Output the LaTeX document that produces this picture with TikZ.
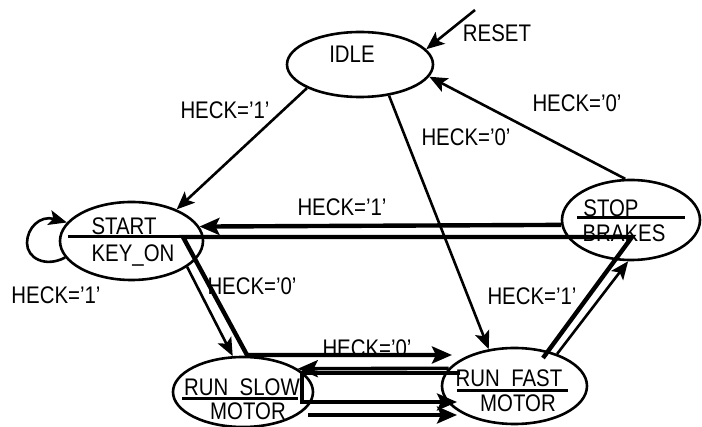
\documentclass[tikz,border=0pt]{standalone}
\usepackage{fontspec}
\setmainfont[FakeStretch=0.85,Ligatures=NoCommon]{Liberation Sans}
\usetikzlibrary{shapes.geometric,arrows.meta}
\newcommand\apo{\char39\relax}
\begin{document}
\begin{tikzpicture}[x=1pt,y=-1pt,
  st/.style={draw,ellipse,line width=2.6pt,inner sep=0pt},
  lbl/.style={font=\fontsize{24}{28}\selectfont,inner sep=0pt,anchor=base},
  fineline/.style={line width=2.6pt},
  midline/.style={line width=3.6pt},
  boldline/.style={line width=4.4pt},
  divline/.style={line width=3pt},
  tip/.style={-{Stealth[length=18pt,width=15pt,inset=4pt]}},
  bigtip/.style={-{Stealth[length=20pt,width=17pt,inset=4pt]}}
]
\useasboundingbox (0,0) rectangle (702,427);

% states
\node[st,minimum width=146pt,minimum height=65pt] (idle) at (360,64.5) {};
\node[st,minimum width=143pt,minimum height=78pt] (start) at (131.5,241) {};
\node[st,minimum width=138pt,minimum height=80pt] (stop) at (631,220) {};
\node[st,minimum width=140pt,minimum height=70pt] (slow) at (243,392) {};
\node[st,minimum width=145pt,minimum height=76pt] (fast) at (514.5,386) {};

% state texts
\node[lbl] (tidle) at (352,63) {IDLE};
\node[lbl] (tstart) at (124,235) {START};
\node[lbl] (tkey) at (133,262) {KEY\_ON};
\node[lbl] (tstop) at (611,217) {STOP};
\node[lbl] (tbrakes) at (624,242) {BRAKES};
\node[lbl] (tslow) at (242,396) {RUN\_SLOW};
\node[lbl] (tmotora) at (248,420) {MOTOR};
\node[lbl] (tfast) at (509,387) {RUN\_FAST};
\node[lbl] (tmotorb) at (518,412) {MOTOR};

% transition labels
\node[lbl] (lreset) at (497,42) {RESET};
\node[lbl] (la) at (225,119) {HECK=\apo1\apo};
\node[lbl] (lb) at (466,146) {HECK=\apo0\apo};
\node[lbl] (lc) at (577,112) {HECK=\apo0\apo};
\node[lbl] (ld) at (342,216) {HECK=\apo1\apo};
\node[lbl] (le) at (252,295) {HECK=\apo0\apo};
\node[lbl] (lf) at (56,304) {HECK=\apo1\apo};
\node[lbl] (lg) at (532,305) {HECK=\apo1\apo};
\node[lbl] (lh) at (367,357) {HECK=\apo0\apo};

% dividers
\draw[divline] (577,218) -- (685,218);
\draw[divline] (182,399) -- (298,399);
\draw[divline] (457,391) -- (568,391);

% coordinates
\coordinate (rs) at (475,10);
\coordinate (b0) at (543,358);
\coordinate (b1) at (632,237);
\coordinate (b2) at (183,237);
\coordinate (b3) at (247,355);
\coordinate (b4) at (452,355);
\coordinate (bs) at (68,237);
\coordinate (c1) at (460,373);
\coordinate (c2) at (302,373);
\coordinate (c3) at (302,402);
\coordinate (c4) at (457,402);
\coordinate (d1) at (308,415);
\coordinate (d2) at (457,415);

% connectors
\draw[fineline,tip] (rs) -- (idle.13);
\draw[fineline,tip] (idle.204) -- (start.35);
\draw[fineline,tip] (idle.-47) -- (fast.125);
\draw[fineline,tip] (stop.98) -- (idle.-10);
\draw[fineline,tip] (start.194) .. controls (45,268) and (27,258) .. (27,243)
   .. controls (27,228) and (40,215) .. (start.164);
\draw[boldline,bigtip] (stop.184) -- (start.12);
\draw[divline] (bs) -- (b2);
\draw[boldline,bigtip] (b0) -- (b1) -- (b2) -- (b3) -- (b4);
\draw[fineline,tip] (start.-25) -- (slow.106);
\draw[fineline,tip] (fast.37) -- (stop.-94);
\draw[midline,bigtip] (fast.165) -- (slow.23);
\draw[midline,bigtip] (c1) -- (c2) -- (c3) -- (c4);
\draw[midline,bigtip] (d1) -- (d2);
\end{tikzpicture}
\end{document}
